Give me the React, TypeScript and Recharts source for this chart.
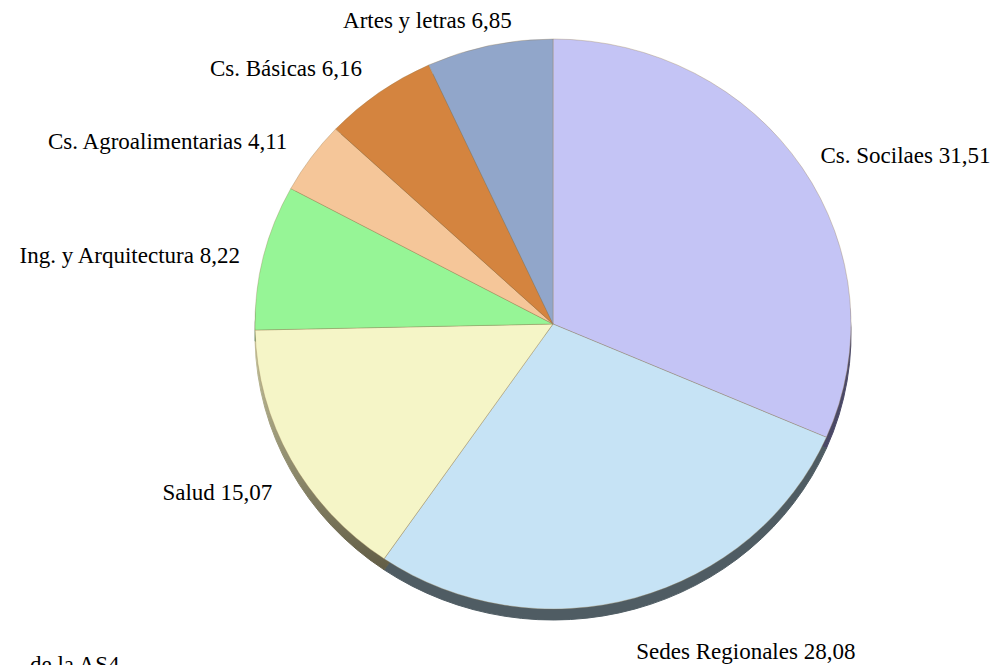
import { PieChart, Pie, Cell } from "recharts";

// ─── Data ────────────────────────────────────────────────────────────────────

const NAMES = [
  "Cs. Socilaes",
  "Sedes Regionales",
  "Salud",
  "Ing. y Arquitectura",
  "Cs. Agroalimentarias",
  "Cs. Básicas",
  "Artes y letras",
];
const VALUES = [31.51, 28.08, 15.07, 8.22, 4.11, 6.16, 6.85];

const FACE_COLORS = ["#c4c4f5", "#c6e3f5", "#f5f5c7", "#96f596", "#f5c699", "#d4843f", "#91a6ca"];
const SIDE_COLORS = ["#4a4866", "#4f5c63", "url(#saludSide)", "#4f7a4f", "#8a6e55", "#6e4424", "#4b5669"];

// ─── Layout ──────────────────────────────────────────────────────────────────

const W = 996;
const H = 665;
const CX = 553;
const CY = 324;
const RX = 298;
const RY = 285;
const SY = RY / RX;
const DEPTH = 11;
const FONT = "'Liberation Serif', 'Times New Roman', serif";
const FONT_SIZE = 23;

// small label nudges (Excel "best fit" placement)
const LABEL_NUDGE: [number, number][] = [
  [0, 0],
  [-5, 32],
  [1, 23],
  [-2, 4],
  [-6, -3],
  [-4, -6],
  [27, -4],
];

const data = NAMES.map((name, i) => ({ name, value: VALUES[i] }));
const fmt = (v: number) => v.toFixed(2).replace(".", ",");

const RAD = Math.PI / 180;

function renderLabel(props: any) {
  const { midAngle, index, name, value } = props;
  const c = Math.cos(-midAngle * RAD);
  const s = Math.sin(-midAngle * RAD);
  const off = 22;
  const [dx, dy] = LABEL_NUDGE[index] ?? [0, 0];
  const x = CX + (RX + off) * c + dx;
  const y = CY + (RY + off) * s + dy;
  return (
    <text
      x={x}
      y={y}
      textAnchor={c > 0 ? "start" : "end"}
      dominantBaseline="central"
      fill="#000"
      fontFamily={FONT}
      fontSize={FONT_SIZE}
    >
      {`${name} ${fmt(value)}`}
    </text>
  );
}

export default function App() {
  return (
    <div style={{ position: "absolute", left: 0, top: 0, width: W, height: H, background: "#fff", overflow: "hidden" }}>
      {/* pie body, squashed into an ellipse */}
      <div
        style={{
          position: "absolute",
          left: 0,
          top: 0,
          width: W,
          height: H,
          transform: `scaleY(${SY})`,
          transformOrigin: `0 ${CY}px`,
        }}
      >
        <PieChart width={W} height={H} margin={{ top: 0, right: 0, bottom: 0, left: 0 }}>
          <defs>
            <linearGradient id="saludSide" x1="0" y1="0" x2="0" y2="1">
              <stop offset="0%" stopColor="#c9c7a0" />
              <stop offset="100%" stopColor="#625d46" />
            </linearGradient>
          </defs>
          <Pie
            data={data}
            dataKey="value"
            nameKey="name"
            cx={CX}
            cy={CY + DEPTH / SY}
            outerRadius={RX}
            startAngle={90}
            endAngle={-270}
            stroke="none"
            isAnimationActive={false}
          >
            {data.map((d, i) => (
              <Cell key={d.name} fill={SIDE_COLORS[i]} stroke={SIDE_COLORS[i]} />
            ))}
          </Pie>
          <Pie
            data={data}
            dataKey="value"
            nameKey="name"
            cx={CX}
            cy={CY}
            outerRadius={RX}
            startAngle={90}
            endAngle={-270}
            isAnimationActive={false}
          >
            {data.map((d, i) => (
              <Cell key={d.name} fill={FACE_COLORS[i]} stroke="rgba(150,125,80,0.35)" strokeWidth={1} />
            ))}
          </Pie>
        </PieChart>
      </div>

      {/* labels, unscaled */}
      <div style={{ position: "absolute", left: 0, top: 0, width: W, height: H }}>
        <PieChart width={W} height={H} margin={{ top: 0, right: 0, bottom: 0, left: 0 }}>
          <Pie
            data={data}
            dataKey="value"
            nameKey="name"
            cx={CX}
            cy={CY}
            outerRadius={RX}
            startAngle={90}
            endAngle={-270}
            fill="none"
            stroke="none"
            label={renderLabel}
            labelLine={false}
            isAnimationActive={false}
          />
        </PieChart>
      </div>

      <div
        style={{
          position: "absolute",
          left: 30,
          top: 652,
          fontFamily: FONT,
          fontSize: FONT_SIZE,
          lineHeight: "26px",
          whiteSpace: "nowrap",
          color: "#000",
        }}
      >
        de la AS4
      </div>
    </div>
  );
}
